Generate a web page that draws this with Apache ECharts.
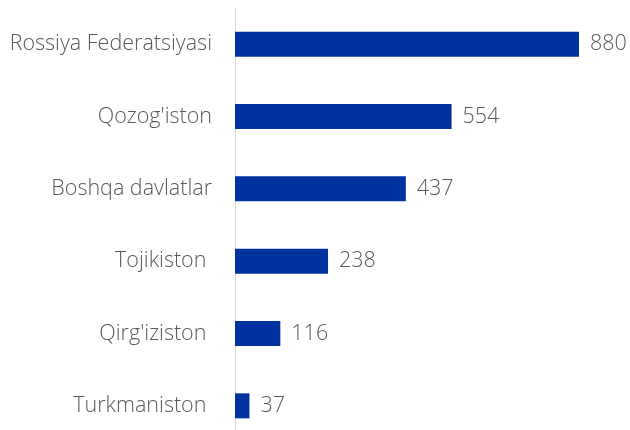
<!DOCTYPE html>
<html>
<head>
<meta charset="utf-8">
<script src="https://cdn.jsdelivr.net/npm/echarts@6/dist/echarts.min.js"></script>
<style>
    html, body { margin: 0; padding: 0; background: #fff; }
    #chart { width: 630px; height: 430px; }
</style>
</head>
<body>
<div id="chart"></div>
<script>
    var categories = ['Rossiya Federatsiyasi', "Qozog'iston", 'Boshqa davlatlar', 'Tojikiston ', "Qirg'iziston ", 'Turkmaniston ']
    var values = [880, 554, 437, 238, 116, 37]

    var chart = echarts.init(document.getElementById('chart'))
    chart.setOption({
        animation: false,
        grid: {
            left: 235,
            top: 8,
            right: 51,
            bottom: -12,
            outerBoundsMode: 'none'
        },
        xAxis: {
            type: 'value',
            min: 0,
            max: 880,
            show: false
        },
        yAxis: {
            type: 'category',
            inverse: true,
            data: categories,
            axisLine: { show: true, lineStyle: { color: '#d9d9d9', width: 1 } },
            axisTick: { show: false },
            axisLabel: {
                margin: 23,
                color: '#595959',
                fontFamily: 'Open Sans',
                fontWeight: 300,
                fontSize: 21.5
            }
        },
        series: [{
            type: 'bar',
            data: values,
            barWidth: 25,
            itemStyle: { color: '#0033a0' },
            label: {
                show: true,
                position: 'right',
                distance: 11,
                color: '#595959',
                fontFamily: 'Open Sans',
                fontWeight: 300,
                fontSize: 21.5
            }
        }]
    })
</script>
</body>
</html>
